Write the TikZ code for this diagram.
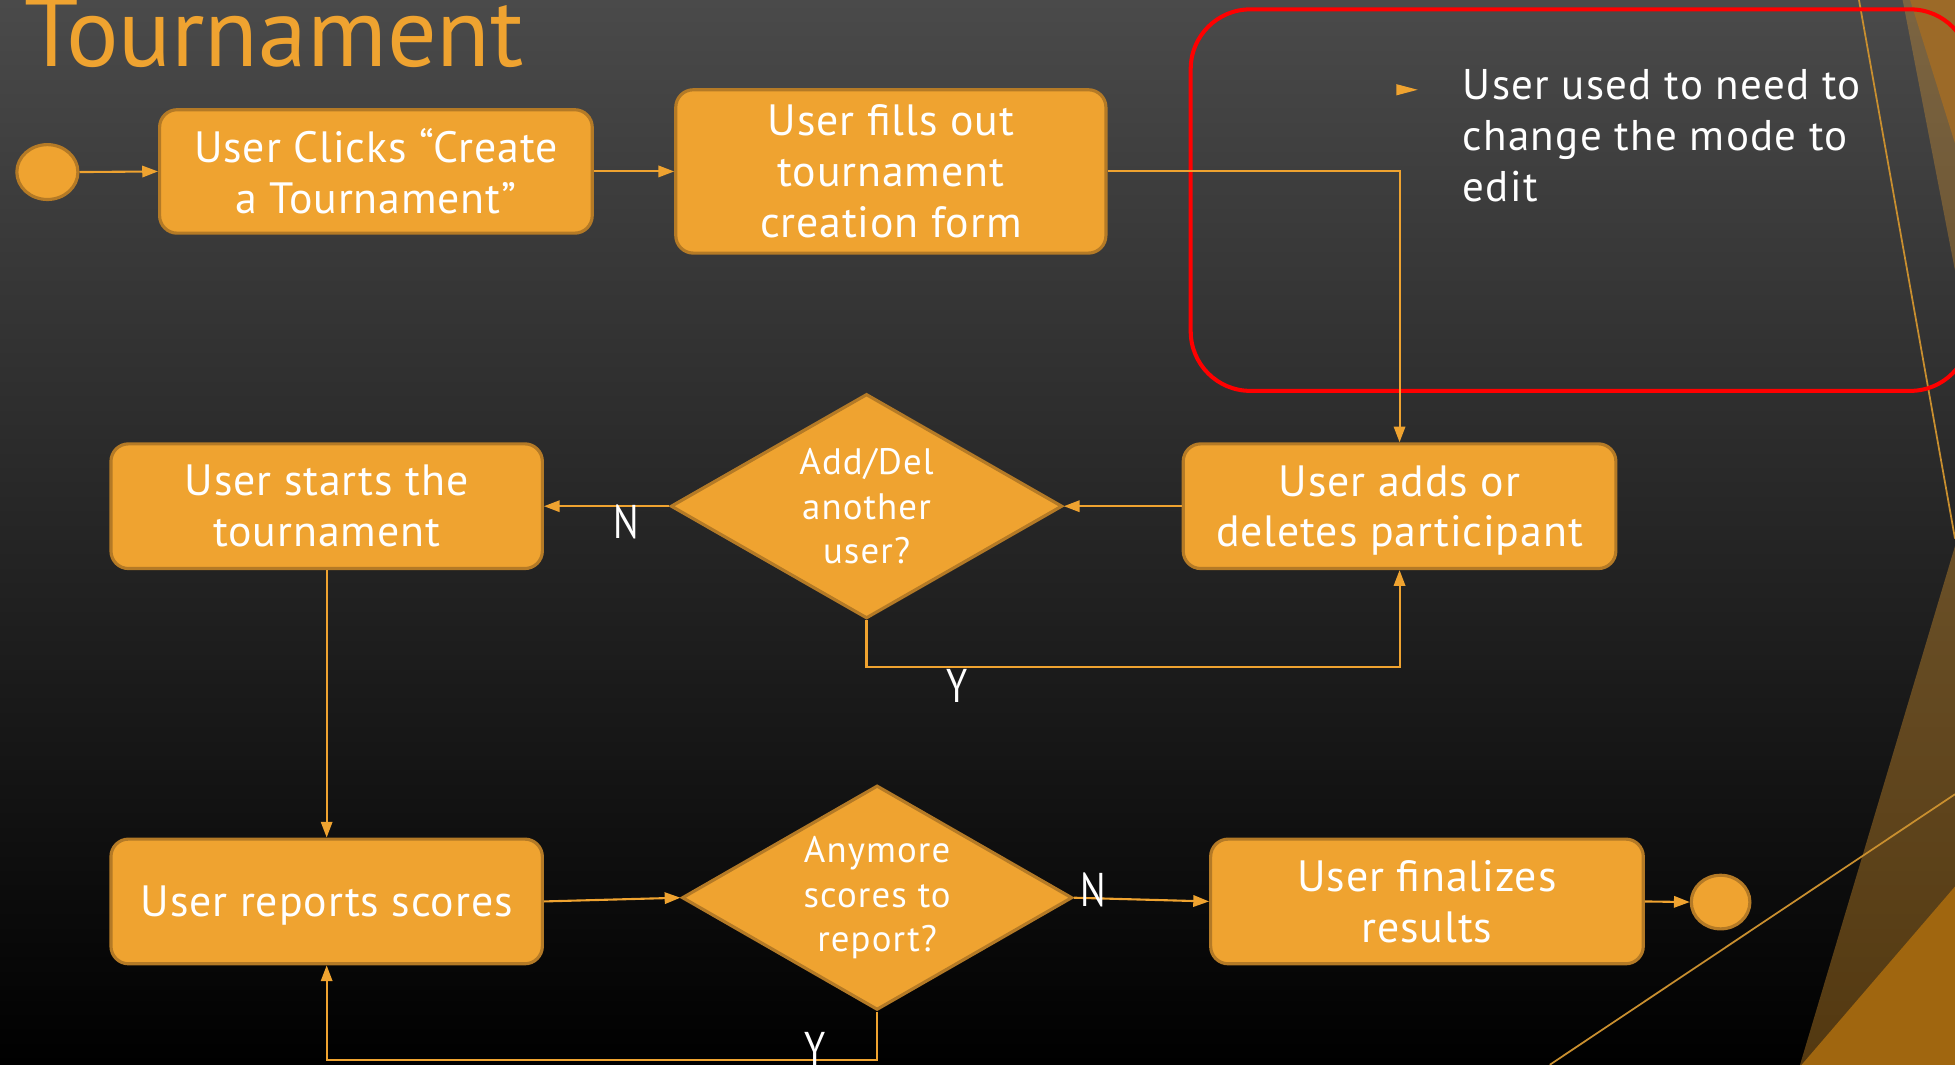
\documentclass[tikz,border=0pt]{standalone}
\usepackage{fontspec}
\setmainfont{PT Sans}
\newfontfamily\boxfont{PT Sans}[LetterSpace=2]
\newfontfamily\wideboxfont{PT Sans}[LetterSpace=3]
\newfontfamily\yesnofont{PT Sans}[FakeStretch=0.8]
\usetikzlibrary{shapes.geometric,arrows.meta}

\definecolor{flowfill}{RGB}{239,163,48}
\definecolor{flowedge}{RGB}{180,122,38}
\definecolor{accentline}{RGB}{201,143,47}
\definecolor{gold}{RGB}{156,106,40}
\definecolor{deepgold}{RGB}{160,102,15}
\definecolor{bgtop}{RGB}{74,74,74}

% a line whose descenders do not count in the node's height
\newcommand\nodepth[1]{\raisebox{0pt}[\height][0pt]{#1}}

\begin{document}
\begin{tikzpicture}[
  x=0.025cm, y=-0.025cm,
  dims/.style 2 args={minimum width={#1*0.025cm}, minimum height={#2*0.025cm}},
  flowbox/.style={rectangle, draw=flowedge, fill=flowfill, line width=1.8pt,
    rounded corners=10pt, inner sep=0pt, text=white, align=center,
    font=\boxfont\fontsize{25}{29}\selectfont},
  decision/.style={diamond, draw=flowedge, fill=flowfill, line width=1.8pt, inner sep=0pt},
  dtext/.style={text=white, align=center, inner sep=0pt,
    font=\wideboxfont\fontsize{21}{25.5}\selectfont},
  terminal/.style={ellipse, draw=flowedge, fill=flowfill, line width=1.8pt, inner sep=0pt},
  conn/.style={draw=flowfill, line width=1.2pt},
  arr/.style={conn, -{Triangle[length=9pt,width=6.5pt]}},
  yn/.style={text=white, inner sep=0pt, font=\yesnofont\fontsize{27}{30}\selectfont},
]
\useasboundingbox (0,0) rectangle (1568,854);
\clip (0,0) rectangle (1568,854);

% backdrop
\shade[top color=bgtop, bottom color=black] (0,0) rectangle (1568,854);

% facets along the right edge
\fill[flowfill, fill opacity=0.3] (1526,0) -- (1568,0) -- (1568,217) -- cycle;
\fill[gold] (1532,0) -- (1568,0) -- (1568,115) -- cycle;
\fill[flowfill, fill opacity=0.35] (1568,438) -- (1443.7,854) -- (1568,854) -- cycle;
\fill[deepgold] (1445,854) -- (1568,711) -- (1568,854) -- cycle;
\draw[accentline, line width=1pt] (1491,0) -- (1568,432);
\draw[accentline, line width=1pt] (1243,854) -- (1568,637);

% heading
\node[anchor=base west, text=flowfill, inner sep=0pt,
      font=\fontsize{56}{62}\selectfont] (title) at (19,53.5) {Tournament};

% remark
\draw[red, line width=2.3pt, rounded corners=34pt] (955,7.5) rectangle (1580,313.5);
\fill[flowfill] (1120,67.5) -- (1137,72) -- (1120,76.5) -- cycle;
\node[anchor=base west, align=left, text=white, inner sep=0pt,
      font=\wideboxfont\fontsize{24.5}{29.2}\selectfont] (note) at (1173,162)
  {User used to need to\\change the mode to\\edit};

% activity nodes
\node[terminal, dims={49}{44}] (start) at (38,138) {};
\node[flowbox, dims={347}{99}] (b1) at (301.5,137.5) {User Clicks “Create\\a Tournament”};
\node[flowbox, dims={345}{131}] (b2) at (714.5,137.5) {User fills out\\tournament\\creation form};
\node[flowbox, dims={347}{100}] (b3) at (1122.5,406) {User adds or\\\nodepth{deletes participant}};
\node[decision, dims={314}{180}] (d1) at (695,406) {};
\node[dtext] (d1text) at (d1) {Add/Del\\another\\user?};
\node[flowbox, dims={346}{100}] (b4) at (262,406) {User starts the\\tournament};
\node[flowbox, dims={346}{100}] (b5) at (262,723) {\nodepth{User reports scores}};
\node[decision, dims={313}{180}] (d2) at (703.5,720) {};
\node[dtext] (d2text) at (d2) {Anymore\\scores to\\report?};
\node[flowbox, dims={347}{100}] (b6) at (1144.5,723) {User finalizes\\results};
\node[terminal, dims={47}{43}] (end) at (1380,723.5) {};

\coordinate (loopA) at (0,535);
\coordinate (loopB) at (0,850);

% connectors
\draw[arr] (start.east) -- (b1.west);
\draw[arr] (b1) -- (b2);
\draw[arr] (b2.east) -| (b3.north);
\draw[arr] (b3.west) -- (d1.east);
\draw[arr] (d1.west) -- (b4.east);
\draw[arr] (d1.south) -- (d1.south |- loopA) -| (b3.south);
\draw[arr] (b4.south) -- (b5.north);
\draw[arr] (b5.east) -- (d2.west);
\draw[arr] (d2.east) -- (b6.west);
\draw[arr] (d2.south) -- (d2.south |- loopB) -| (b5.south);
\draw[arr] (b6.east) -- (end.west);

% branch labels
\node[yn] (n1) at (502,419) {N};
\node[yn] (y1) at (768,550) {Y};
\node[yn] (n2) at (877,714) {N};
\node[yn] (y2) at (654,841) {Y};
\end{tikzpicture}
\end{document}
